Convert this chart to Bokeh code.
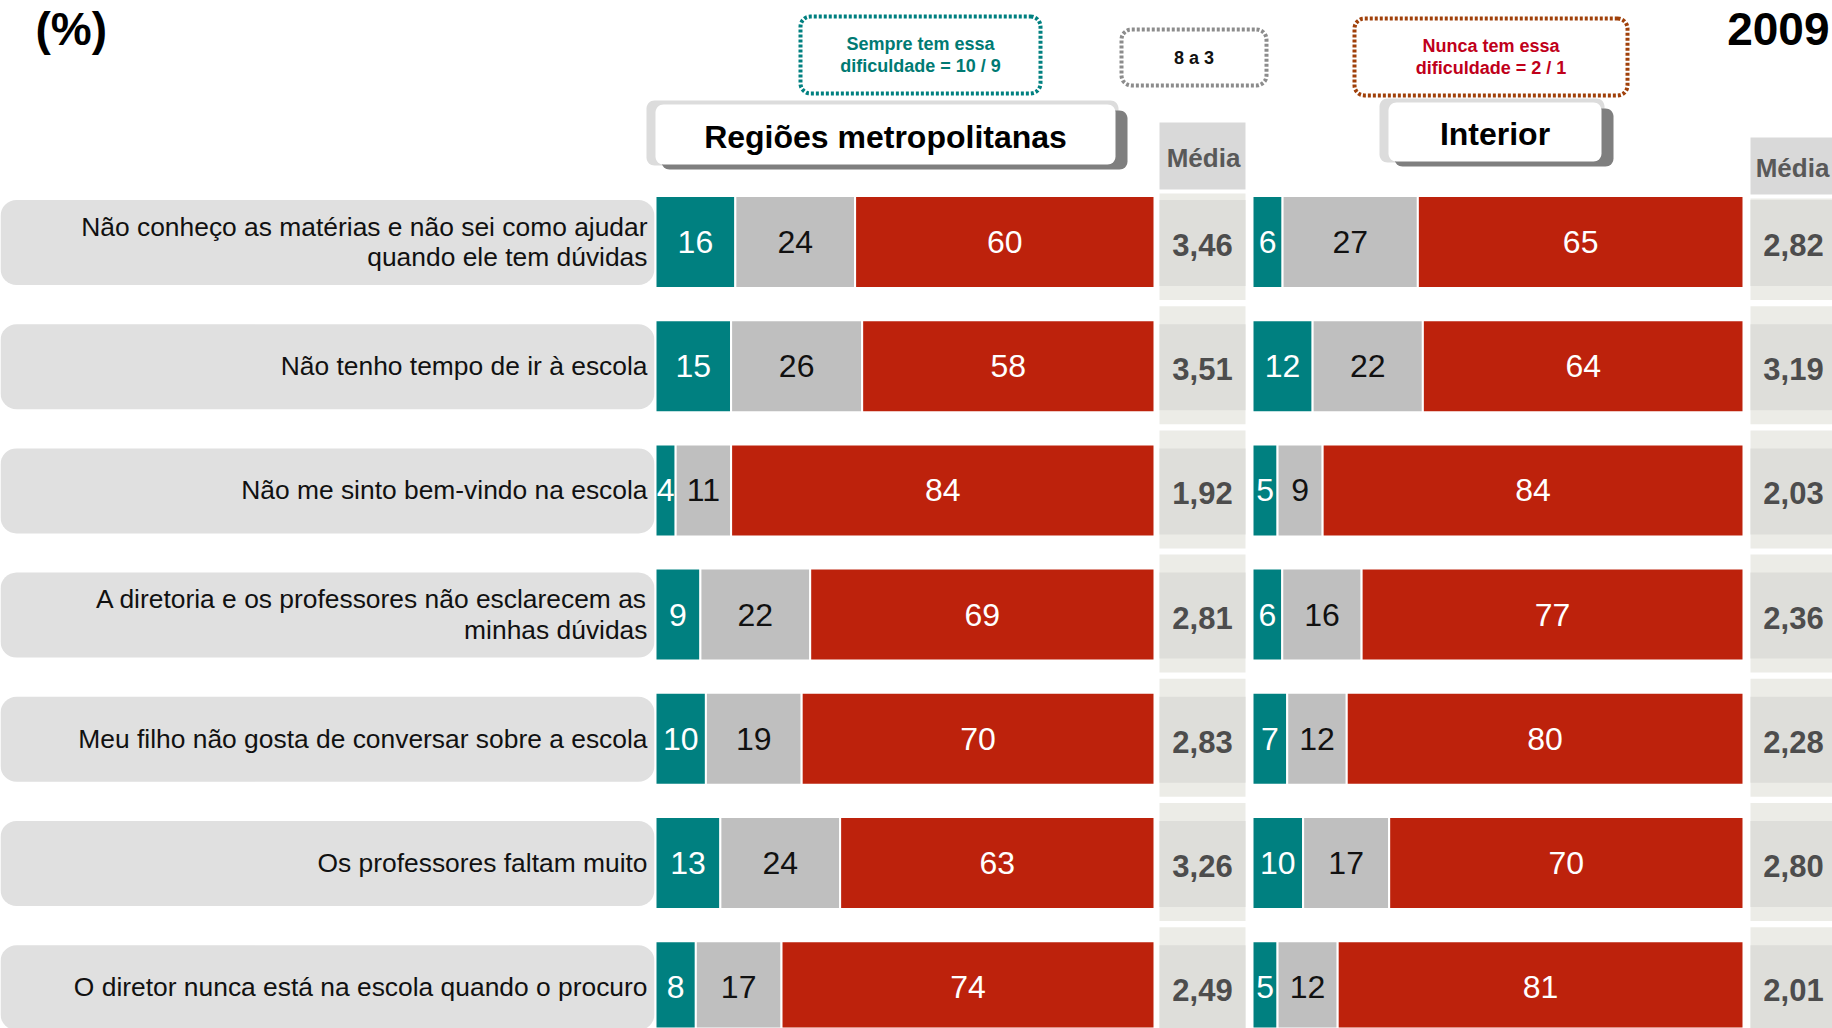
import math
from bokeh.plotting import figure
from bokeh.models import Range1d, ColumnDataSource
from bokeh.core.properties import value
from bokeh.embed import file_html
from bokeh.resources import INLINE

# ---------------- data ----------------
categories = [
    "Não conheço as matérias e não sei como ajudar\nquando ele tem dúvidas",
    "Não tenho tempo de ir à escola",
    "Não me sinto bem-vindo na escola",
    "A diretoria e os professores não esclarecem as\nminhas dúvidas",
    "Meu filho não gosta de conversar sobre a escola",
    "Os professores faltam muito",
    "O diretor nunca está na escola quando o procuro",
]
metro_sempre = [16, 15, 4, 9, 10, 13, 8]
metro_8a3 = [24, 26, 11, 22, 19, 24, 17]
metro_nunca = [60, 58, 84, 69, 70, 63, 74]
metro_media = [3.46, 3.51, 1.92, 2.81, 2.83, 3.26, 2.49]

int_sempre = [6, 12, 5, 6, 7, 10, 5]
int_8a3 = [27, 22, 9, 16, 12, 17, 12]
int_nunca = [65, 64, 84, 77, 80, 70, 81]
int_media = [2.82, 3.19, 2.03, 2.36, 2.28, 2.80, 2.01]

# ---------------- layout ----------------
W, H = 1832, 1028
FONT = value("Liberation Sans")
TEAL, GREY, RED = "#008080", "#bfbfbf", "#bd220c"

ROW0, PITCH, BAR_H = 241.5, 124.2, 92
rows_y = [ROW0 + PITCH * i for i in range(len(categories))]

p = figure(width=W, height=H, x_range=Range1d(0, W), y_range=Range1d(H, 0),
           output_backend="svg", toolbar_location=None, min_border=0,
           x_axis_location=None, y_axis_location=None)
p.grid.visible = False
p.outline_line_color = None
p.background_fill_color = "white"


def rrect(x0, y0, x1, y1, r, n=8):
    xs, ys = [], []
    corners = [(x1 - r, y0 + r, -90, 0), (x1 - r, y1 - r, 0, 90),
               (x0 + r, y1 - r, 90, 180), (x0 + r, y0 + r, 180, 270)]
    for cx, cy, a0, a1 in corners:
        for k in range(n + 1):
            a = math.radians(a0 + (a1 - a0) * k / n)
            xs.append(cx + r * math.cos(a))
            ys.append(cy + r * math.sin(a))
    return xs, ys


# label backgrounds
lx, ly = [], []
for y in rows_y:
    xs, ys = rrect(0, y - 42, 654, y + 43, 16)
    lx.append(xs); ly.append(ys)
p.patches(lx, ly, fill_color="#e0e0e0", line_color=None)
p.text(x=[647] * len(categories), y=rows_y, text=categories, text_align="right",
       text_baseline="middle", text_font=FONT, text_font_size="26.4px",
       text_color="#111111", text_line_height=1.02)


# stacked bars
def stacked(x0, x1, a, b, c):
    L, R, Y, C, T, TC = [], [], [], [], [], []
    for i, y in enumerate(rows_y):
        vals = [a[i], b[i], c[i]]
        tot = sum(vals)
        cum = 0
        for v, col, tc in zip(vals, [TEAL, GREY, RED], ["white", "#111111", "white"]):
            l = x0 + (x1 - x0) * cum / tot
            cum += v
            r = x0 + (x1 - x0) * cum / tot
            L.append(l); R.append(r); Y.append(y); C.append(col)
            T.append(str(v)); TC.append(tc)
    src = ColumnDataSource(dict(left=L, right=R, y=Y, color=C, text=T, tc=TC,
                                xm=[(l + r) / 2 for l, r in zip(L, R)]))
    p.hbar(y="y", left="left", right="right", height=BAR_H, fill_color="color",
           line_color="white", line_width=2, source=src)
    p.text(x="xm", y="y", text="text", text_color="tc", text_align="center",
           text_baseline="middle", text_font=FONT, text_font_size="32px", source=src)


stacked(655, 1154, metro_sempre, metro_8a3, metro_nunca)
stacked(1252, 1743, int_sempre, int_8a3, int_nunca)


# média columns
def media_col(x0, x1, hdr_top, hdr_bot, vals):
    p.quad(left=[x0], right=[x1], top=[hdr_top], bottom=[hdr_bot], fill_color="#d9d9d9", line_color=None)
    p.text(x=[(x0 + min(x1, W)) / 2 + 1], y=[(hdr_top + hdr_bot) / 2 + 2], text=["Média"],
           text_align="center", text_baseline="middle", text_font=FONT, text_font_size="26px",
           text_font_style="bold", text_color="#595959")
    otop = [max(y - 60, hdr_bot + 4) for y in rows_y]
    obot = [y + 58 for y in rows_y]
    p.quad(left=x0, right=x1, top=otop, bottom=obot, fill_color="#ecece7", line_color=None)
    p.quad(left=x0, right=x1, top=[y - 42 for y in rows_y], bottom=[y + 44 for y in rows_y],
           fill_color="#dededa", line_color=None)
    p.text(x=[(x0 + x1) / 2] * len(vals), y=[y + 3 for y in rows_y],
           text=[f"{v:.2f}".replace(".", ",") for v in vals], text_align="center",
           text_baseline="middle", text_font=FONT, text_font_size="31px",
           text_font_style="bold", text_color="#4d4d4d")


media_col(1159, 1245, 122, 189, metro_media)
media_col(1750, 1836, 137, 194, int_media)


# header boxes
def header(x0, y0, x1, y1, label):
    xs, ys = rrect(x0 - 9, y0 - 4, x1 + 3, y1 + 1, 8)
    p.patch(xs, ys, fill_color="#dcdcdc", line_color=None)
    xs, ys = rrect(x0 + 6, y0 + 6, x1 + 12, y1 + 5, 8)
    p.patch(xs, ys, fill_color="#7f7f7f", line_color=None)
    xs, ys = rrect(x0, y0, x1, y1, 8)
    p.patch(xs, ys, fill_color="white", line_color=None)
    p.text(x=[(x0 + x1) / 2], y=[(y0 + y1) / 2 + 2], text=[label], text_align="center",
           text_baseline="middle", text_font=FONT, text_font_size="32px",
           text_font_style="bold", text_color="black")


header(655, 104, 1115, 164, "Regiões metropolitanas")
header(1388, 102, 1601, 161, "Interior")


# dotted legend boxes
def dbox(x0, y0, x1, y1, lc, lines, tc):
    xs, ys = rrect(x0, y0, x1, y1, 10)
    p.patch(xs, ys, fill_color=None, line_color=lc, line_width=4, line_dash="3 2")
    n = len(lines)
    cy = (y0 + y1) / 2
    ysx = [cy + (k - (n - 1) / 2) * 22 for k in range(n)]
    p.text(x=[(x0 + x1) / 2] * n, y=ysx, text=lines, text_align="center",
           text_baseline="middle", text_font=FONT, text_font_size="18px",
           text_font_style="bold", text_color=tc)


dbox(800, 16, 1040, 93, "#008080", ["Sempre tem essa", "dificuldade = 10 / 9"], "#007a73")
dbox(1121, 29, 1266, 85, "#8c8c8c", ["8 a 3"], "#111111")
dbox(1354, 18, 1627, 95, "#a0400a", ["Nunca tem essa", "dificuldade = 2 / 1"], "#c0001a")

# corner titles
p.text(x=[35], y=[28], text=["(%)"], text_align="left", text_baseline="middle",
       text_font=FONT, text_font_size="46px", text_font_style="bold", text_color="black")
p.text(x=[1829], y=[28], text=["2009"], text_align="right", text_baseline="middle",
       text_font=FONT, text_font_size="46px", text_font_style="bold", text_color="black")

open("out.html", "w").write(file_html(p, INLINE))
